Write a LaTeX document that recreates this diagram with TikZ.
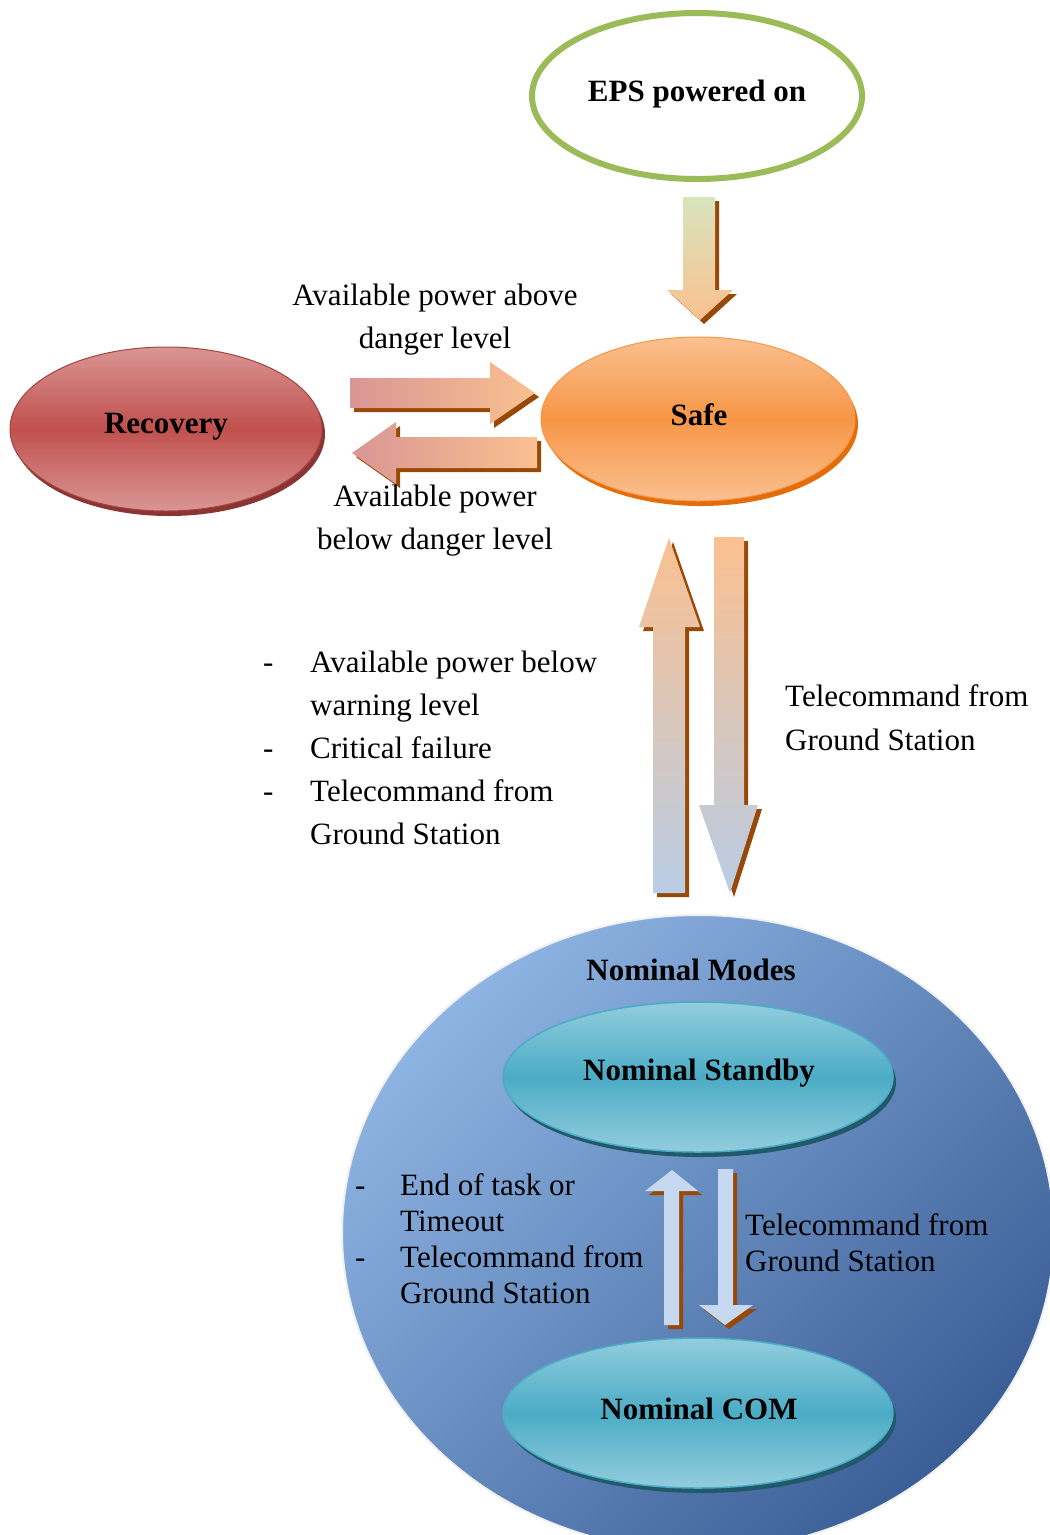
\documentclass[tikz,border=0pt]{standalone}
\usepackage{fontspec}
\setmainfont{Liberation Serif}
\usetikzlibrary{shapes.geometric,shadows}

\definecolor{epsgreen}{HTML}{9BBB59}
\definecolor{orgmid}{HTML}{F79646}
\definecolor{orglight}{HTML}{FAC090}
\definecolor{orgdark}{HTML}{E46C0A}
\definecolor{redmid}{HTML}{C0504D}
\definecolor{redlight}{HTML}{D99694}
\definecolor{reddark}{HTML}{8C3431}
\definecolor{tealmid}{HTML}{4BACC6}
\definecolor{teallight}{HTML}{93CDDD}
\definecolor{tealdark}{HTML}{21596A}
\definecolor{greenlight}{HTML}{D7E4BD}
\definecolor{bluelight}{HTML}{B9CDE5}
\definecolor{bluepale}{HTML}{C6D9F1}
\definecolor{circlight}{HTML}{8EB4E3}
\definecolor{circdark}{HTML}{3A5E96}
\definecolor{shadowbrown}{HTML}{984807}

\tikzset{
  lbl/.style={font=\fontsize{31}{36}\selectfont, inner sep=0pt},
  bold/.style={font=\bfseries\fontsize{31}{36}\selectfont, inner sep=0pt},
  mode/.style={ellipse, inner sep=0pt},
  blockshadow/.style={general shadow={fill=shadowbrown, shadow xshift=4pt, shadow yshift=-4pt}},
}

\begin{document}
\begin{tikzpicture}[x=1pt,y=-1pt]
\useasboundingbox (0,0) rectangle (1050,1535);
\clip (0,0) rectangle (1050,1535);

% ---------- outer nominal-modes disc ----------
\path[top color=circlight, bottom color=circdark, shading angle=45,
      draw=white!88!gray, line width=2pt]
  (698,1233) ellipse[x radius=356, y radius=318];

% ---------- mode ellipses ----------
\node[mode, draw=epsgreen, line width=6pt, fill=white,
      minimum width=330pt, minimum height=166pt] (eps) at (697,96) {};
\node[mode, top color=orglight, bottom color=orglight, middle color=orgmid,
      draw=orgmid, line width=1pt,
      general shadow={fill=orgdark, shadow xshift=3pt, shadow yshift=-5pt},
      minimum width=314pt, minimum height=164pt] (safe) at (698,419) {};
\node[mode, top color=redlight, bottom color=redlight, middle color=redmid,
      draw=redmid!85!black, line width=1pt,
      general shadow={fill=reddark, shadow xshift=3pt, shadow yshift=-5pt},
      minimum width=312pt, minimum height=164pt] (recovery) at (166,429) {};
\node[mode, top color=teallight, bottom color=teallight, middle color=tealmid,
      draw=tealmid, line width=1.5pt,
      general shadow={fill=tealdark, shadow xshift=3pt, shadow yshift=-5pt},
      minimum width=390pt, minimum height=150pt] (standby) at (698,1077) {};
\node[mode, top color=teallight, bottom color=teallight, middle color=tealmid,
      draw=tealmid, line width=1.5pt,
      general shadow={fill=tealdark, shadow xshift=3pt, shadow yshift=-5pt},
      minimum width=390pt, minimum height=150pt] (com) at (698,1413) {};

% ---------- mode names ----------
\node[bold] (epsT) at (697,94) {EPS powered on};
\node[bold] (safeT) at (699,415) {Safe};
\node[bold] (recT) at (166,427) {Recovery};
\node[bold] (nomT) at (691,970) {Nominal Modes};
\node[bold] (stbT) at (699,1073) {Nominal Standby};
\node[bold] (comT) at (699,1409) {Nominal COM};

% ---------- block arrows ----------
% power-on into Safe
\path[top color=greenlight, bottom color=orglight, blockshadow]
  (683,197) -- (715,197) -- (715,290) -- (733,290) -- (700,320)
  -- (667,290) -- (683,290) -- cycle;
% Recovery -> Safe
\path[left color=redlight, right color=orglight, blockshadow]
  (350,378) -- (490,378) -- (490,362) -- (535,393) -- (490,424)
  -- (490,408) -- (350,408) -- cycle;
% Safe -> Recovery
\path[left color=redlight, right color=orglight, blockshadow]
  (537,437) -- (396,437) -- (396,422) -- (352,453) -- (396,484)
  -- (396,468) -- (537,468) -- cycle;
% Nominal -> Safe
\path[top color=orglight, bottom color=bluelight, blockshadow]
  (653,893) -- (653,627) -- (639,627) -- (669,538) -- (700,627)
  -- (685,627) -- (685,893) -- cycle;
% Safe -> Nominal
\path[top color=orglight, bottom color=bluelight, blockshadow]
  (714,537) -- (744,537) -- (744,805) -- (758,805) -- (730,893)
  -- (699,805) -- (714,805) -- cycle;
% COM -> Standby
\path[fill=bluepale, blockshadow]
  (664,1325) -- (664,1191) -- (645,1191) -- (672,1170) -- (698,1191)
  -- (679,1191) -- (679,1325) -- cycle;
% Standby -> COM
\path[fill=bluepale, blockshadow]
  (718,1169) -- (733,1169) -- (733,1305) -- (753,1305) -- (725,1325)
  -- (699,1305) -- (718,1305) -- cycle;

% ---------- transition conditions ----------
\node[lbl, anchor=base] (up1) at (435,305) {Available power above};
\node[lbl, anchor=base] (up2) at (435,348) {danger level};
\node[lbl, anchor=base] (dn1) at (435,506) {Available power};
\node[lbl, anchor=base] (dn2) at (435,549) {below danger level};

\node[lbl, anchor=base west] (d1) at (263,672) {-};
\node[lbl, anchor=base west] (c1a) at (310,672) {Available power below};
\node[lbl, anchor=base west] (c1b) at (310,715) {warning level};
\node[lbl, anchor=base west] (d2) at (263,758) {-};
\node[lbl, anchor=base west] (c2) at (310,758) {Critical failure};
\node[lbl, anchor=base west] (d3) at (263,801) {-};
\node[lbl, anchor=base west] (c3a) at (310,801) {Telecommand from};
\node[lbl, anchor=base west] (c3b) at (310,844) {Ground Station};

\node[lbl, anchor=base west] (tc1) at (785,706) {Telecommand from};
\node[lbl, anchor=base west] (tc2) at (785,750) {Ground Station};

\node[lbl, anchor=base west] (e0) at (355,1195) {-};
\node[lbl, anchor=base west] (e1) at (400,1195) {End of task or};
\node[lbl, anchor=base west] (e2) at (400,1231) {Timeout};
\node[lbl, anchor=base west] (e3) at (355,1267) {-};
\node[lbl, anchor=base west] (e4) at (400,1267) {Telecommand from};
\node[lbl, anchor=base west] (e5) at (400,1303) {Ground Station};

\node[lbl, anchor=base west] (g1) at (745,1235) {Telecommand from};
\node[lbl, anchor=base west] (g2) at (745,1271) {Ground Station};
\end{tikzpicture}
\end{document}
